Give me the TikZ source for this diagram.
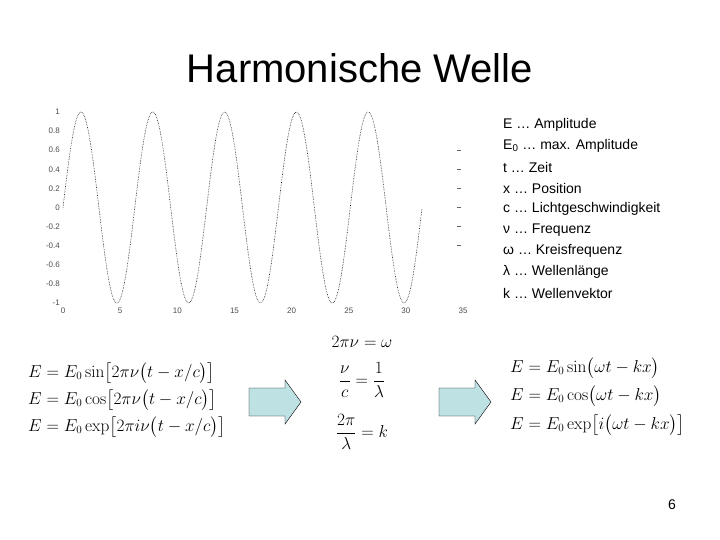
\documentclass[tikz,border=0pt]{standalone}
\usepackage{amsmath}
\usepackage[no-math]{fontspec}
\setmainfont{Liberation Sans}
\definecolor{arrowfill}{RGB}{190,225,228}
\tikzset{
  ticklabel/.style={font=\fontsize{8}{8}\selectfont, text=black!70, inner sep=1pt},
  legend/.style={anchor=west, font=\fontsize{14}{14}\selectfont, inner sep=0pt},
  formula/.style={anchor=west, font=\fontsize{16}{16}\selectfont, inner sep=0pt},
  blockarrow/.style={draw=black, fill=arrowfill, thin}
}
\newcommand{\blockarr}[1]{% left end x of the arrow
  \draw[blockarrow] (#1,388) -- ++(36,0) -- ++(0,-8) -- ++(16,22) -- ++(-16,22) -- ++(0,-8) -- ++(-36,0) -- cycle;}
\begin{document}
\begin{tikzpicture}[x=1pt,y=-1pt]
\useasboundingbox (0,0) rectangle (720,540);

\node (title) at (360,68) {\fontsize{40}{40}\selectfont Harmonische Welle};

	% plot
	\begin{scope}[shift={(63,207.5)}, xscale=11.43, yscale=95.5]
	\draw[black!90, densely dotted, semithick] plot[domain=0:31.4, samples=300, smooth] (\x,{-sin(\x r)});
	\end{scope}
	\foreach \v/\t [count=\i] in {1/1,0.8/0.8,0.6/0.6,0.4/0.4,0.2/0.2,0/0,-0.2/-0.2,-0.4/-0.4,-0.6/-0.6,-0.8/-0.8,-1/-1}
	  \node[ticklabel, anchor=east] (yl\i) at (61,{207.5-95.5*\v}) {\t};
	\foreach \v in {0,0.2,0.4,0.6,-0.2,-0.4}
	  \draw[black!60] (457,{207.5-95.5*\v}) -- (461,{207.5-95.5*\v});
	\foreach \u [count=\i] in {0,5,...,35}
	  \node[ticklabel] (xl\i) at ({63+11.43*\u},311) {\u};

	% legend
	\node[legend] (l1) at (503,125) {E … Amplitude};
	\node[legend] (l2) at (503,146) {E\textsubscript{0} … max. Amplitude};
	\node[legend] (l3) at (503,167) {t … Zeit};
	\node[legend] (l4) at (503,188) {x … Position};
	\node[legend] (l5) at (503,209) {c … Lichtgeschwindigkeit};
	\node[legend] (l6) at (503,230) {ν … Frequenz};
	\node[legend] (l7) at (503,251) {ω … Kreisfrequenz};
	\node[legend] (l8) at (503,272) {λ … Wellenlänge};
	\node[legend] (l9) at (503,293) {k … Wellenvektor};

	% formulas
	\node[formula] (f1) at (28,373) {$E=E_0\sin\bigl[2\pi\nu\bigl(t-x/c\bigr)\bigr]$};
	\node[formula] (f2) at (28,400) {$E=E_0\cos\bigl[2\pi\nu\bigl(t-x/c\bigr)\bigr]$};
	\node[formula] (f3) at (28,427) {$E=E_0\exp\bigl[2\pi i\nu\bigl(t-x/c\bigr)\bigr]$};

	\node[formula, anchor=center] (m1) at (362,342) {$2\pi\nu=\omega$};
	\node[formula, anchor=center] (m2) at (362,380) {$\dfrac{\nu}{c}=\dfrac{1}{\lambda}$};
	\node[formula, anchor=center] (m3) at (362,432) {$\dfrac{2\pi}{\lambda}=k$};

	\node[formula] (g1) at (510,368) {$E=E_0\sin\bigl(\omega t-kx\bigr)$};
	\node[formula] (g2) at (510,396) {$E=E_0\cos\bigl(\omega t-kx\bigr)$};
	\node[formula] (g3) at (510,425) {$E=E_0\exp\bigl[i\bigl(\omega t-kx\bigr)\bigr]$};

	% arrows
	\blockarr{249}
	\blockarr{439}

	\node[legend] (page) at (668,505) {6};
\end{tikzpicture}
\end{document}
